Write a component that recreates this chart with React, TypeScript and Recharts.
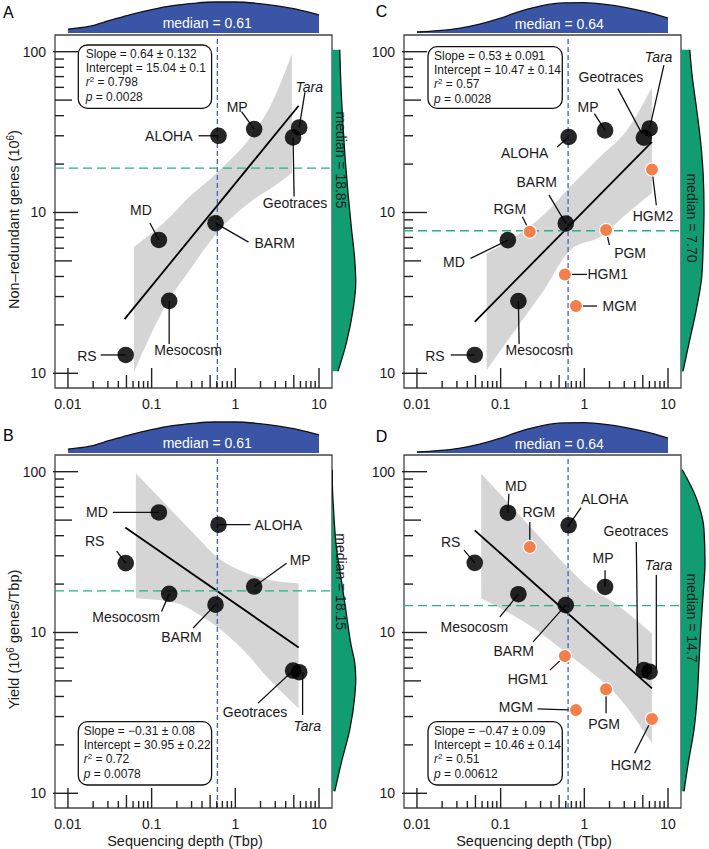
import React from "react";
import {
  ComposedChart,
  Area,
  Line,
  Scatter,
  XAxis,
  YAxis,
  ReferenceLine,
  ReferenceArea,
} from "recharts";

const FONT = '"Liberation Sans", Arial, Helvetica, sans-serif';
const INK = "#1a1a1a";
const BLUE = "#3a55a5";
const GREEN = "#129c71";
const ORANGE = "#f3804b";
const BAND = "#d5d5d5";

// ---- data ----
const sites = ["RS", "MD", "Mesocosm", "BARM", "ALOHA", "MP", "Geotraces", "Tara"];
const depthAB = [0.049, 0.122, 0.162, 0.58, 0.63, 1.68, 4.9, 5.8];
const depthCD = [0.049, 0.122, 0.163, 0.6, 0.65, 1.77, 5.15, 6.03];
const genesA = [1.3, 6.75, 2.82, 8.58, 30, 33, 29.3, 33.8];
const genesC = [1.3, 6.73, 2.81, 8.55, 29.5, 32.4, 29.2, 33.3];
const yieldB = [27, 55.8, 17.4, 14.9, 46.8, 19.3, 5.8, 5.66];
const yieldD = [27.1, 55.6, 17.3, 14.8, 46.4, 19.2, 5.84, 5.7];

const gmSites = ["RGM", "PGM", "HGM1", "MGM", "HGM2"];
const gmDepth = [0.223, 1.82, 0.586, 0.794, 6.43];
const gmGenes = [7.59, 7.77, 4.12, 2.62, 18.5];
const gmYield = [34, 4.43, 7.13, 3.29, 2.9];

// regression lines
const fitAX = [0.0475, 5.71];
const fitAY = [2.17, 46.1];
const fitBX = [0.0484, 5.71];
const fitBY = [45, 8.07];
const fitCX = [0.049, 6.43];
const fitCY = [2.09, 27.5];
const fitDX = [0.049, 6.43];
const fitDY = [43.2, 4.49];

// confidence bands
const bandAX = [0.0615, 0.17, 0.26, 0.6, 1.64, 2.6, 4.75];
const bandALo = [1.02, 3.0, 4.1, 7.43, 12.0, 14.0, 17.6];
const bandAHi = [6.1, 9.5, 12.0, 17.6, 31.1, 45.6, 96.7];
const bandBX = [0.0648, 0.2, 0.38, 0.6, 1.24, 2.59, 5.7];
const bandBLo = [16.3, 15.2, 12.8, 10.9, 7.78, 5.07, 3.38];
const bandBHi = [97.7, 53, 37.5, 29.6, 23.9, 21.2, 20.2];
const bandCX = [0.068, 0.171, 0.33, 0.68, 1.56, 3.26, 6.43];
const bandCLo = [1.05, 2.05, 3.3, 5.85, 7.08, 9.9, 13.2];
const bandCHi = [5.58, 7.43, 9.7, 14.5, 22.3, 32.7, 60.2];
const bandDX = [0.0586, 0.25, 0.62, 1.1, 2.4, 6.43];
const bandDLo = [16.3, 10.6, 7.43, 5.9, 4.12, 2.05];
const bandDHi = [97.2, 42.9, 25.7, 19.3, 15.0, 9.86];

// marginal densities (top: depth, right: y variable)
const densX = [0.01, 0.0178, 0.0316, 0.0562, 0.1, 0.178, 0.316, 0.562, 1, 1.78, 3.16, 5.62, 10];
const topDensAB = [0.12, 0.2, 0.38, 0.56, 0.71, 0.83, 0.9, 0.94, 0.94, 0.9, 0.82, 0.71, 0.55];
const topDensCD = [0.03, 0.07, 0.14, 0.27, 0.45, 0.67, 0.83, 0.91, 0.92, 0.87, 0.77, 0.63, 0.45];
const rightAY = [100, 67, 41.5, 28.3, 20.3, 12.6, 7.8, 4.84, 3.0, 1.86, 1];
const rightAW = [0.24, 0.57, 0.84, 0.95, 0.91, 0.77, 0.64, 0.53, 0.44, 0.37, 0.31];
const rightBY = [100, 66.7, 41.4, 25.6, 20.2, 15.9, 12.5, 7.78, 4.83, 2.99, 1.86, 1.15, 1];
const rightBW = [0.11, 0.37, 0.71, 0.91, 0.95, 0.91, 0.77, 0.57, 0.37, 0.17, 0.07, 0.012, 0.012];
const rightCY = [100, 66.8, 41.5, 25.8, 16, 9.9, 6.1, 3.8, 2.37, 1.47, 1];
const rightCW = [0.08, 0.32, 0.61, 0.83, 0.89, 0.92, 0.89, 0.79, 0.63, 0.45, 0.35];
const rightDY = [100, 66.7, 41.4, 25.6, 15.9, 9.9, 6.1, 3.8, 2.36, 1.47, 1];
const rightDW = [0.12, 0.29, 0.52, 0.65, 0.72, 0.79, 0.88, 0.96, 0.92, 0.59, 0.05];

const medX = [0.61, 0.61, 0.64, 0.64];
const medY = [18.85, 18.15, 7.7, 14.7];
const medXText = ["0.61", "0.61", "0.64", "0.64"];
const medYText = ["18.85", "18.15", "7.70", "14.7"];

const statsA = ["0.64 ± 0.132", "15.04 ± 0.1", "0.798", "0.0028"];
const statsB = ["−0.31 ± 0.08", "30.95 ± 0.22", "0.72", "0.0078"];
const statsC = ["0.53 ± 0.091", "10.47 ± 0.14", "0.57", "0.0028"];
const statsD = ["−0.47 ± 0.09", "10.46 ± 0.14", "0.51", "0.00612"];

// ---- axes ----
const xDomain = [0.007, 14.3];
const yDomain = [0.81, 127];
const mults = [1, 2, 3, 4, 5, 6, 7, 8, 9];
const xTickValues = [
  ...[0.01, 0.1, 1].flatMap((d) => mults.map((m) => +(m * d).toPrecision(3))),
  10,
];
const yTickValues = [...[1, 10].flatMap((d) => mults.map((m) => m * d)), 100];
const xTickLabels: Record<string, string> = { "0.01": "0.01", "0.1": "0.1", "1": "1", "10": "10" };
const yTickLabels: Record<string, string> = { "1": "10", "10": "10", "100": "100" };

function mant(v: number) {
  return Math.round(v / Math.pow(10, Math.floor(Math.log10(v) + 1e-9)));
}

function XTick(props: any) {
  const { x, y, payload } = props;
  const v = payload.value;
  const m = mant(v);
  const len = m === 1 ? 20 : m === 5 ? 13 : 7;
  const lab = xTickLabels[String(v)];
  return (
    <g>
      <line x1={x} x2={x} y1={y} y2={y - len} stroke="#222" strokeWidth={1.4} />
      {lab && (
        <text x={x} y={y + 21} textAnchor="middle" fontSize={14} fontFamily={FONT} fill={INK}>
          {lab}
        </text>
      )}
    </g>
  );
}

function YTick(props: any) {
  const { x, y, payload } = props;
  const v = payload.value;
  const m = mant(v);
  const x0 = m === 1 ? x - 2 : x;
  const x1 = m === 1 ? x + 23 : m === 5 ? x + 17 : x + 9;
  const lab = yTickLabels[String(v)];
  return (
    <g>
      <line x1={x0} x2={x1} y1={y} y2={y} stroke="#222" strokeWidth={1.4} />
      {lab && (
        <text x={x - 9} y={y + 5} textAnchor="end" fontSize={14} fontFamily={FONT} fill={INK}>
          {lab}
        </text>
      )}
    </g>
  );
}

// ---- label placement (pixel offsets from each point) ----
type Lab = { dx: number; dy: number; a: "start" | "middle" | "end"; l: number[]; it?: boolean };

const labelsA: Record<string, Lab> = {
  RS: { dx: -29, dy: 1, a: "end", l: [-25, 0, 0, 0] },
  MD: { dx: -18, dy: -30, a: "middle", l: [-9, -17, 0, 0] },
  Mesocosm: { dx: 19, dy: 49, a: "middle", l: [0, 43, 0, 0] },
  BARM: { dx: 39, dy: 20, a: "start", l: [33, 19, 0, 0] },
  ALOHA: { dx: -26, dy: 0, a: "end", l: [-20, 0, 0, 0] },
  MP: { dx: -17, dy: -22, a: "middle", l: [-12.6, -17.6, 0, 0] },
  Geotraces: { dx: 2, dy: 66, a: "middle", l: [1, 59, 0, 0] },
  Tara: { dx: 10, dy: -40, a: "middle", l: [5.7, -35, 0, 0], it: true },
};
const labelsB: Record<string, Lab> = {
  MD: { dx: -51, dy: 0, a: "end", l: [-46, 0, 0, 0] },
  ALOHA: { dx: 36, dy: 0, a: "start", l: [32, 0, 0, 0] },
  RS: { dx: -31, dy: -22, a: "middle", l: [-9, -12, 0, 0] },
  Mesocosm: { dx: -43, dy: 23, a: "middle", l: [-7.6, 17.7, 0, 0] },
  BARM: { dx: -34, dy: 32, a: "middle", l: [-22.4, 23.3, 0, 0] },
  MP: { dx: 46, dy: -27, a: "middle", l: [32.4, -23.4, 0, 0] },
  Geotraces: { dx: -38, dy: 41, a: "middle", l: [-35, 32.6, 0, 0] },
  Tara: { dx: 8, dy: 54, a: "middle", l: [3.4, 42.7, 3.4, 0], it: true },
};
const labelsC: Record<string, Lab> = {
  RS: { dx: -30, dy: 1, a: "end", l: [-24, 0, 0, 0] },
  MD: { dx: -54, dy: 22, a: "middle", l: [-37.3, 18.3, 0, 0] },
  Mesocosm: { dx: 21, dy: 49, a: "middle", l: [0.7, 43, 0, 0] },
  BARM: { dx: -29, dy: -41, a: "middle", l: [-16.7, -28.3, 0, 0] },
  ALOHA: { dx: -44, dy: 16, a: "middle", l: [-11.6, 10, 0, 0] },
  MP: { dx: -17, dy: -23, a: "middle", l: [-10.7, -16.7, 0, 0] },
  Geotraces: { dx: -33, dy: -61, a: "middle", l: [-26, -49, -2, -4] },
  Tara: { dx: 9, dy: -71, a: "middle", l: [14.3, -63.3, 0, 0], it: true },
  RGM: { dx: -20, dy: -23, a: "middle", l: [-7.4, -15, 0, 0] },
  PGM: { dx: 24, dy: 23, a: "middle", l: [3.3, 15, 0, 0] },
  HGM1: { dx: 22.6, dy: 0, a: "start", l: [22, 0, 0, 0] },
  MGM: { dx: 26.6, dy: 0, a: "start", l: [21, 0, 0, 0] },
  HGM2: { dx: 1, dy: 46, a: "middle", l: [4.4, 35.7, 0, 0] },
};
const labelsD: Record<string, Lab> = {
  MD: { dx: 8, dy: -27, a: "middle", l: [1, -19, 0, 0] },
  ALOHA: { dx: 36, dy: -26, a: "middle", l: [12.4, -17.7, 0, 0] },
  RGM: { dx: 9, dy: -35, a: "middle", l: [0, -25, 0, 0] },
  RS: { dx: -24, dy: -21, a: "middle", l: [-10.7, -12.7, 0, 0] },
  Mesocosm: { dx: -44, dy: 33, a: "middle", l: [-18.6, 22.7, 0, 0] },
  BARM: { dx: -52, dy: 46, a: "middle", l: [-32.7, 36.7, 0, 0] },
  HGM1: { dx: -37, dy: 23, a: "middle", l: [-15, 14, 0, 0] },
  MGM: { dx: -43, dy: -3, a: "end", l: [-38.4, -1.3, 0, 0] },
  MP: { dx: -2, dy: -29, a: "middle", l: [0, -16.7, 0, 0] },
  PGM: { dx: -2, dy: 35, a: "middle", l: [0, 24, 0, 0] },
  Geotraces: { dx: -8, dy: -139, a: "middle", l: [-7.6, -128, -6, -2] },
  Tara: { dx: 9, dy: -107, a: "middle", l: [6.7, -97, 6.7, -3], it: true },
  HGM2: { dx: -21, dy: 46, a: "middle", l: [-17.3, 34.3, 0, 0] },
};

const mkPts = (names: string[], xs: number[], ys: number[]) =>
  names.map((name, i) => ({ name, x: xs[i], y: ys[i] }));
const mkBand = (xs: number[], lo: number[], hi: number[]) =>
  xs.map((x, i) => ({ x, range: [lo[i], hi[i]] }));
const mkFit = (xs: number[], ys: number[]) => xs.map((x, i) => ({ x, y: ys[i] }));

type Pt = { name: string; x: number; y: number };
type PanelProps = {
  ox: number;
  oy: number;
  idx: number;
  letter: string;
  letterPos: number[];
  black: Pt[];
  orange: Pt[];
  fit: { x: number; y: number }[];
  band: { x: number; range: number[] }[];
  topDens: number[];
  rightY: number[];
  rightW: number[];
  labels: Record<string, Lab>;
  stats: string[];
  box: number[];
  statX: number;
  topMedPos: number[];
  rightMedPos: number[];
  yTitle?: React.ReactNode;
  xTitle?: boolean;
};

function PanelMain(p: PanelProps) {
  const allPts = [...p.black, ...p.orange];
  const labelShape = (s: any) => {
    const c = p.labels[s.payload?.name];
    if (!c || s.cx == null) return <g />;
    const [x1, y1, x2, y2] = c.l;
    return (
      <g>
        <line x1={s.cx + x1} y1={s.cy + y1} x2={s.cx + x2} y2={s.cy + y2} stroke="#111" strokeWidth={1.3} />
        <text
          x={s.cx + c.dx}
          y={s.cy + c.dy + 5}
          textAnchor={c.a}
          fontSize={14}
          fontStyle={c.it ? "italic" : "normal"}
          fontFamily={FONT}
          fill={INK}
        >
          {s.payload.name}
        </text>
      </g>
    );
  };
  const blackDot = (s: any) => <circle cx={s.cx} cy={s.cy} r={8.3} fill="#000" fillOpacity={0.85} />;
  const orangeDot = (s: any) => (
    <circle cx={s.cx} cy={s.cy} r={6.6} fill={ORANGE} stroke="#fff" strokeWidth={1.2} />
  );
  return (
    <div style={{ position: "absolute", left: p.ox, top: p.oy }}>
      <ComposedChart width={354} height={420} margin={{ top: 35, right: 22, bottom: 2, left: 25 }}>
        <XAxis
          type="number"
          dataKey="x"
          scale="log"
          domain={xDomain}
          allowDataOverflow
          ticks={xTickValues}
          interval={0}
          tick={(t: any) => <XTick {...t} />}
          tickLine={false}
          axisLine={false}
          tickSize={0}
          tickMargin={0}
          height={30}
        />
        <YAxis
          type="number"
          scale="log"
          domain={yDomain}
          allowDataOverflow
          ticks={yTickValues}
          interval={0}
          tick={(t: any) => <YTick {...t} />}
          tickLine={false}
          axisLine={false}
          tickSize={0}
          tickMargin={0}
          width={30}
        />
        <Area
          data={p.band}
          dataKey="range"
          type="monotone"
          fill={BAND}
          fillOpacity={1}
          stroke="none"
          dot={false}
          activeDot={false}
          isAnimationActive={false}
        />
        <Line
          data={p.fit}
          dataKey="y"
          type="linear"
          stroke="#000"
          strokeWidth={1.8}
          dot={false}
          activeDot={false}
          isAnimationActive={false}
        />
        <Scatter data={allPts} dataKey="y" shape={labelShape} isAnimationActive={false} />
        <Scatter data={p.black} dataKey="y" shape={blackDot} isAnimationActive={false} />
        {p.orange.length > 0 && (
          <Scatter data={p.orange} dataKey="y" shape={orangeDot} isAnimationActive={false} />
        )}
        <ReferenceLine x={medX[p.idx]} stroke="#4761b9" strokeWidth={1.3} strokeDasharray="5 3" />
        <ReferenceLine y={medY[p.idx]} stroke="#25b285" strokeWidth={1.3} strokeDasharray="9 5" />
        <ReferenceArea
          x1={xDomain[0]}
          x2={xDomain[1]}
          y1={yDomain[0]}
          y2={yDomain[1]}
          fill="none"
          stroke="#444"
          strokeWidth={1.3}
        />
      </ComposedChart>
    </div>
  );
}

function PanelDens(p: PanelProps) {
  const topData = densX.map((x, i) => ({ x, d: p.topDens[i] }));
  const rightData = p.rightY.map((y, i) => ({ y, w: p.rightW[i] }));
  return (
    <>
      <div style={{ position: "absolute", left: p.ox, top: p.oy }}>
        <ComposedChart width={354} height={33} margin={{ top: 0, right: 22, bottom: 0, left: 55 }} data={topData}>
          <XAxis type="number" dataKey="x" scale="log" domain={xDomain} allowDataOverflow hide />
          <YAxis type="number" domain={[0, 1]} allowDataOverflow hide />
          <Area
            dataKey="d"
            type="monotone"
            fill={BLUE}
            fillOpacity={1}
            stroke="#111"
            strokeWidth={1.3}
            dot={false}
            activeDot={false}
            isAnimationActive={false}
          />
        </ComposedChart>
      </div>
      <div style={{ position: "absolute", left: p.ox + 332, top: p.oy }}>
        <ComposedChart
          layout="vertical"
          width={60}
          height={420}
          margin={{ top: 35, right: 0, bottom: 32, left: 0 }}
          data={rightData}
        >
          <XAxis type="number" domain={[0, 2.4]} ticks={[0, 1.2, 2.4]} allowDataOverflow hide />
          <YAxis type="number" dataKey="y" scale="log" domain={yDomain} allowDataOverflow hide />
          <Area
            dataKey="w"
            type="monotone"
            fill={GREEN}
            fillOpacity={1}
            stroke="#111"
            strokeWidth={1.3}
            dot={false}
            activeDot={false}
            isAnimationActive={false}
          />
        </ComposedChart>
      </div>
    </>
  );
}

function PanelOverlay(p: PanelProps) {
  const [bx, by, bw, bh] = p.box;
  const sy = by + 12.8;
  return (
    <svg
      width={360}
      height={430}
      style={{ position: "absolute", left: p.ox, top: p.oy, overflow: "visible", pointerEvents: "none" }}
      fontFamily={FONT}
    >
      <text x={p.letterPos[0]} y={p.letterPos[1]} fontSize={16} fill="#000">
        {p.letter}
      </text>
      <text x={p.topMedPos[0]} y={p.topMedPos[1]} fontSize={14} fill="#fff" textAnchor="middle">
        median = {medXText[p.idx]}
      </text>
      <text
        transform={`translate(${p.rightMedPos[0]},${p.rightMedPos[1]}) rotate(90)`}
        fontSize={14}
        fill="#1d1d1d"
        textAnchor="middle"
      >
        median = {medYText[p.idx]}
      </text>
      <rect x={bx} y={by} width={bw} height={bh} rx={9} fill="none" stroke="#111" strokeWidth={1.3} />
      <g fontSize={12} fill={INK}>
        <text x={p.statX} y={sy}>Slope = {p.stats[0]}</text>
        <text x={p.statX} y={sy + 14.4}>Intercept = {p.stats[1]}</text>
        <text x={p.statX} y={sy + 28.4}>
          <tspan fontStyle="italic">r</tspan>
          <tspan dy={-4} fontSize={8}>2</tspan>
          <tspan dy={4}> = {p.stats[2]}</tspan>
        </text>
        <text x={p.statX} y={sy + 43.2}>
          <tspan fontStyle="italic">p</tspan> = {p.stats[3]}
        </text>
      </g>
      {p.yTitle && (
        <text transform={`translate(18.5,${(35 + 388) / 2 + 8}) rotate(-90)`} fontSize={14.5} fill={INK} textAnchor="middle">
          {p.yTitle}
        </text>
      )}
      {p.xTitle && (
        <text x={185} y={426} fontSize={14.5} fill={INK} textAnchor="middle">
          Sequencing depth (Tbp)
        </text>
      )}
    </svg>
  );
}

export default function App() {
  const panels: PanelProps[] = [
    {
      ox: 0,
      oy: 0,
      idx: 0,
      letter: "A",
      letterPos: [3, 18.3],
      black: mkPts(sites, depthAB, genesA),
      orange: [],
      fit: mkFit(fitAX, fitAY),
      band: mkBand(bandAX, bandALo, bandAHi),
      topDens: topDensAB,
      rightY: rightAY,
      rightW: rightAW,
      labels: labelsA,
      stats: statsA,
      box: [78.3, 45, 133.3, 63.3],
      statX: 85.7,
      topMedPos: [207.2, 27.8],
      rightMedPos: [336, 160],
      yTitle: (
        <>
          Non–redundant genes (10<tspan dy={-5} fontSize={10}>6</tspan>
          <tspan dy={5}>)</tspan>
        </>
      ),
    },
    {
      ox: 0,
      oy: 420,
      idx: 1,
      letter: "B",
      letterPos: [3, 20.7],
      black: mkPts(sites, depthAB, yieldB),
      orange: [],
      fit: mkFit(fitBX, fitBY),
      band: mkBand(bandBX, bandBLo, bandBHi),
      topDens: topDensAB,
      rightY: rightBY,
      rightW: rightBW,
      labels: labelsB,
      stats: statsB,
      box: [78.3, 301.7, 133.3, 63.3],
      statX: 83.7,
      topMedPos: [207.2, 28.3],
      rightMedPos: [335.5, 161.7],
      yTitle: (
        <>
          Yield (10<tspan dy={-5} fontSize={10}>6</tspan>
          <tspan dy={5}> genes/Tbp)</tspan>
        </>
      ),
      xTitle: true,
    },
    {
      ox: 349,
      oy: 0,
      idx: 2,
      letter: "C",
      letterPos: [26.7, 17.3],
      black: mkPts(sites, depthCD, genesC),
      orange: mkPts(gmSites, gmDepth, gmGenes),
      fit: mkFit(fitCX, fitCY),
      band: mkBand(bandCX, bandCLo, bandCHi),
      topDens: topDensCD,
      rightY: rightCY,
      rightW: rightCW,
      labels: labelsC,
      stats: statsC,
      box: [79, 46.7, 134.3, 61.6],
      statX: 85,
      topMedPos: [210.3, 29.3],
      rightMedPos: [338, 218],
    },
    {
      ox: 349,
      oy: 420,
      idx: 3,
      letter: "D",
      letterPos: [26.7, 21.7],
      black: mkPts(sites, depthCD, yieldD),
      orange: mkPts(gmSites, gmDepth, gmYield),
      fit: mkFit(fitDX, fitDY),
      band: mkBand(bandDX, bandDLo, bandDHi),
      topDens: topDensCD,
      rightY: rightDY,
      rightW: rightDW,
      labels: labelsD,
      stats: statsD,
      box: [79, 301.7, 134.3, 63.3],
      statX: 85,
      topMedPos: [210.3, 29],
      rightMedPos: [338.3, 198],
      xTitle: true,
    },
  ];

  return (
    <div
      style={{
        position: "fixed",
        left: 0,
        top: 0,
        width: 709,
        height: 849,
        overflow: "hidden",
        background: "#fff",
        fontFamily: FONT,
      }}
    >
      {panels.map((p) => (
        <PanelMain key={"m" + p.idx} {...p} />
      ))}
      {panels.map((p) => (
        <PanelDens key={"d" + p.idx} {...p} />
      ))}
      {panels.map((p) => (
        <PanelOverlay key={"o" + p.idx} {...p} />
      ))}
    </div>
  );
}
